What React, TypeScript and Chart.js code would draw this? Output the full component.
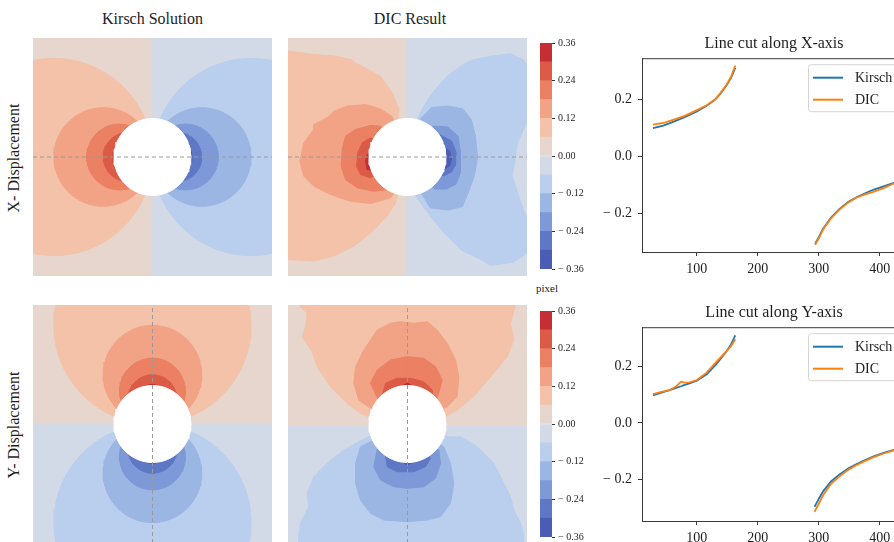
import React, { useEffect, useRef } from 'react';
import { Chart, registerables } from 'chart.js';
Chart.register(...registerables);

type Pt = [number, number];

const FONT = "'Liberation Serif', 'Times New Roman', serif";
const TEXT = '#1e1e1e';
Chart.defaults.font.family = FONT;
Chart.defaults.color = TEXT;

// ---------------- contour levels & colours ----------------
const levels = [-0.36, -0.3, -0.24, -0.18, -0.12, -0.06, 0, 0.06, 0.12, 0.18, 0.24, 0.3, 0.36];
const levelColors = ['#4a5cb3', '#5f78c6', '#7d99d8', '#9cb6e4', '#bacfee', '#d2dae8', '#e6d6ce', '#f3c2a9', '#f2a385', '#eb8063', '#dc5b47', '#c52e33'];
const colorbarTicks = [-0.36, -0.24, -0.12, 0, 0.12, 0.24, 0.36];
const colorbarTickLabels = ['\u2212 0.36', '\u2212 0.24', '\u2212 0.12', '0.00', '0.12', '0.24', '0.36'];

// ---------------- panel geometry (panel units, hole centre = 0,0) ----------------
const panelHalfX = 119.5;
const panelHalfY = 119;
const holeRadius = 38.5;
// Kirsch contour circles for |u| = 0.06, 0.12, 0.18, 0.24, 0.30 (radius = offset of centre)
const kirschRadii = [98.6, 49.3, 32.9, 24.6, 19.7];
const dicXSplit = -0.3;
const dicYSplit = -2;

// DIC X-displacement contours (positive lobes left, negative right)
const dicXPos06: Pt[] = [[-10.3, 35.8], [-8.7, 47.5], [-15.3, 64], [-27, 80.8], [-40.3, 88], [-52, 94], [-55.3, 96.8], [-70.3, 100.8], [-93.7, 102.5], [-120, 106], [-130, 106], [-130, -102.5], [-120, -102.5], [-93.7, -104], [-73.7, -99], [-53.7, -89], [-37, -76], [-20.3, -59], [-12, -46], [-8.7, -32.5]];
const dicXPos12: Pt[] = [[-15.3, 40.2], [-27, 48], [-42, 52.5], [-60.3, 50.8], [-73.7, 45.8], [-80.3, 39.2], [-93.7, 32.5], [-93.7, 27.5], [-103.7, 14.2], [-107.7, -4.2], [-103.7, -19.2], [-93.7, -29.2], [-77, -37.5], [-57, -44.2], [-37, -46.5], [-17, -40.8], [-10.3, -32.5]];
const dicXPos18: Pt[] = [[-27, 30.8], [-37, 31.5], [-52, 27.5], [-62, 20.8], [-65.3, 7.5], [-66.3, -9.2], [-62, -22.5], [-50.3, -30.8], [-33.7, -34.2], [-20.3, -32.5]];
const dicXPos24: Pt[] = [[-37, 19.2], [-45.3, 14.2], [-49.7, 4.2], [-51, -9.2], [-47, -17.5], [-37, -20.8]];
const dicXPos30: Pt[] = [[-37, 4], [-40.5, 2.5], [-42, -4.2], [-40.5, -12.5], [-37, -13]];
const dicXNeg06: Pt[] = [[9.7, 37.5], [16.3, 50.8], [26.3, 65.8], [39.7, 80.8], [53, 90.8], [63, 96.5], [83, 100.8], [103, 103.2], [116, 97], [121, 91], [121, 38], [110, 14], [108, 0], [104.7, -18.5], [113, -45], [121, -65], [121, -95], [106.3, -105], [83, -108.5], [73, -102.5], [53, -92.5], [36.3, -75.8], [23, -59.2], [13, -46], [6.3, -35.8]];
const dicXNeg12: Pt[] = [[13, 38], [24, 49.5], [41, 51], [55.5, 48], [64, 37], [68, 21], [70, 0.5], [67, -18.5], [61, -35], [55, -49.5], [41, -53], [23, -51], [13, -35]];
const dicXNeg18: Pt[] = [[26, 31], [40, 30], [50.5, 21], [53, 4.5], [53, -15.5], [48.5, -27], [39, -32], [27, -32]];
const dicXNeg24: Pt[] = [[33, 22], [44, 16], [48.5, 5], [48, -8], [44, -15], [36, -19]];
const dicXNeg30: Pt[] = [[37.5, 9], [42, 6], [44, -2], [42, -9], [37.5, -12]];

// DIC Y-displacement contours (positive lobes top, negative bottom)
const dicYPos06: Pt[] = [[-38.7, 7.3], [-47, 10.7], [-60.3, 20.7], [-77, 37.3], [-90.3, 57.3], [-95.3, 72.3], [-105.3, 87.3], [-102, 97.3], [-100.3, 110.7], [-108.7, 119], [-108.7, 130], [108, 130], [108, 119], [106.3, 114], [103, 100.7], [106.3, 84], [99.7, 67.3], [83, 47.3], [66.3, 27.3], [49.7, 14], [38, 7.3]];
const dicYPos12: Pt[] = [[-37, 15.7], [-48.7, 24], [-53.7, 40.7], [-52, 57.3], [-43.7, 74], [-30.3, 94], [-17, 100.7], [-7, 102.3], [6.3, 100.7], [19.7, 102.3], [29.7, 94], [39.7, 80.7], [48, 64], [51.3, 47.3], [49.7, 27.3], [39.7, 17.3]];
const dicYPos18: Pt[] = [[-29.5, 24.7], [-37, 40.7], [-30.3, 54], [-17, 64], [0, 67.3], [16.3, 65.7], [28, 57.3], [34.7, 44], [29.5, 24.7]];
const dicYPos24: Pt[] = [[-25, 29.5], [-22, 40.7], [-10.3, 45.7], [3, 45.7], [16.3, 42.3], [24.7, 34], [25, 29.5]];
const dicYPos30: Pt[] = [[-7, 37.5], [0, 41], [6.3, 37.5]];
const dicYNeg06: Pt[] = [[-38.7, -12.7], [-48.7, -17.7], [-63.7, -26], [-80.3, -39.3], [-93.7, -52.7], [-100.3, -69.3], [-98.7, -82.7], [-107, -99.3], [-108.7, -111], [-108.7, -130], [116.3, -130], [116.3, -111], [113, -99.3], [106.3, -86], [103, -72.7], [93, -52.7], [86.3, -39.3], [69.7, -22.7], [53, -12.7], [38, -12.7]];
const dicYNeg12: Pt[] = [[-37, -17.7], [-47, -22.7], [-52, -39.3], [-52, -59.3], [-47, -76], [-37, -89.3], [-23.7, -96], [0, -97.7], [19.7, -96], [33, -92.7], [43, -79.3], [46.3, -59.3], [43, -39.3], [36.3, -22.7]];
const dicYNeg18: Pt[] = [[-30, -24], [-33.7, -42.7], [-27, -56], [-13.7, -62.7], [0, -64.3], [16.3, -62.7], [28, -54.3], [33, -39.3], [31.3, -26]];
const dicYNeg24: Pt[] = [[-22, -31], [-20.3, -42.7], [-10.3, -47.7], [6.3, -47.7], [18, -42.7], [23, -34.3]];
const dicYNeg30: Pt[] = [[-7, -37.5], [0, -41], [6.3, -37.5]];

// ---------------- line cuts ----------------
const cutXLeft = [28, 45, 61, 80, 100, 116, 130, 138, 149, 156, 163];
const kirschXLeft = [0.099, 0.108, 0.121, 0.137, 0.157, 0.177, 0.199, 0.218, 0.25, 0.275, 0.31];
const dicXLeft = [0.111, 0.117, 0.128, 0.142, 0.162, 0.179, 0.2, 0.22, 0.252, 0.279, 0.318];
const cutXRight = [294, 300, 307, 320, 334, 348, 362, 376, 389, 405, 423, 432];
const kirschXRight = [-0.306, -0.283, -0.253, -0.214, -0.184, -0.16, -0.143, -0.129, -0.117, -0.106, -0.093, -0.088];
const dicXRight = [-0.31, -0.287, -0.256, -0.217, -0.186, -0.162, -0.144, -0.133, -0.124, -0.112, -0.095, -0.09];

const cutYLeft = [28, 42, 55, 65, 74, 80, 88, 100, 116, 132, 149, 156, 163];
const kirschYLeft = [0.098, 0.107, 0.116, 0.123, 0.13, 0.135, 0.14, 0.15, 0.172, 0.208, 0.255, 0.278, 0.31];
const dicYLeft = [0.102, 0.11, 0.116, 0.128, 0.146, 0.143, 0.144, 0.152, 0.178, 0.216, 0.255, 0.272, 0.296];
const cutYRight = [293, 300, 307, 320, 334, 348, 362, 376, 389, 405, 423, 432];
const kirschYRight = [-0.297, -0.268, -0.242, -0.207, -0.182, -0.161, -0.145, -0.131, -0.119, -0.107, -0.095, -0.09];
const dicYRight = [-0.315, -0.285, -0.256, -0.215, -0.189, -0.166, -0.149, -0.134, -0.122, -0.109, -0.097, -0.091];

const lineXMin = 10;
const lineXMax = 443;
const lineXTicks = [100, 200, 300, 400];
const lineYTicks = [-0.2, 0, 0.2];
const lineYTickLabels = ['\u2212 0.2', '0.0', '0.2'];
const seriesNames = ['Kirsch', 'DIC'];
const seriesColors = ['#1f77b4', '#ff7f0e'];

// ---------------- helpers ----------------
function circlePts(cx: number, cy: number, r: number): Pt[] {
  const pts: Pt[] = [];
  const n = 96;
  for (let i = 0; i < n; i++) {
    const a = (i / n) * Math.PI * 2;
    pts.push([cx + r * Math.cos(a), cy + r * Math.sin(a)]);
  }
  return pts;
}

function shape(pts: Pt[], color: string) {
  const closed = [...pts, pts[0]];
  return {
    data: closed.map(([x, y]) => ({ x, y })),
    showLine: true,
    fill: 'shape',
    backgroundColor: color,
    borderColor: color,
    borderWidth: 1,
    pointRadius: 0,
    tension: 0,
  };
}

function lobe(pts: Pt[], color: string) {
  return shape([...pts, [0, 0]], color);
}

function rect(x0: number, y0: number, x1: number, y1: number): Pt[] {
  return [[x0, y0], [x1, y0], [x1, y1], [x0, y1]];
}

function finishPanel(list: any[], axis: 'x' | 'y') {
  list.push(shape(circlePts(0, 0, holeRadius), '#ffffff'));
  const dash = axis === 'x'
    ? [{ x: -panelHalfX, y: 0 }, { x: panelHalfX, y: 0 }]
    : [{ x: 0, y: -panelHalfY }, { x: 0, y: panelHalfY }];
  list.push({ data: dash, showLine: true, fill: false, borderColor: '#9a9a9a', borderWidth: 1, borderDash: [4, 3], pointRadius: 0 });
  const n = list.length;
  return list.map((d, i) => ({ ...d, order: n - i }));
}

function kirschPanel(axis: 'x' | 'y') {
  const list: any[] = [];
  if (axis === 'x') {
    list.push(shape(rect(-130, -130, 0, 130), levelColors[6]));
    list.push(shape(rect(0, -130, 130, 130), levelColors[5]));
  } else {
    list.push(shape(rect(-130, 0, 130, 130), levelColors[6]));
    list.push(shape(rect(-130, -130, 130, 0), levelColors[5]));
  }
  kirschRadii.forEach((r, k) => {
    const c: Pt = axis === 'x' ? [-r, 0] : [0, r];
    list.push(shape(circlePts(c[0], c[1], r), levelColors[7 + k]));
    list.push(shape(circlePts(-c[0], -c[1], r), levelColors[4 - k]));
  });
  return finishPanel(list, axis);
}

function dicPanel(axis: 'x' | 'y') {
  const list: any[] = [];
  let pos: Pt[][];
  let neg: Pt[][];
  if (axis === 'x') {
    list.push(shape(rect(-130, -130, dicXSplit, 130), levelColors[6]));
    list.push(shape(rect(dicXSplit, -130, 130, 130), levelColors[5]));
    pos = [dicXPos06, dicXPos12, dicXPos18, dicXPos24, dicXPos30];
    neg = [dicXNeg06, dicXNeg12, dicXNeg18, dicXNeg24, dicXNeg30];
  } else {
    list.push(shape(rect(-130, dicYSplit, 130, 130), levelColors[6]));
    list.push(shape(rect(-130, -130, 130, dicYSplit), levelColors[5]));
    pos = [dicYPos06, dicYPos12, dicYPos18, dicYPos24, dicYPos30];
    neg = [dicYNeg06, dicYNeg12, dicYNeg18, dicYNeg24, dicYNeg30];
  }
  pos.forEach((p, k) => {
    list.push(lobe(p, levelColors[7 + k]));
    list.push(lobe(neg[k], levelColors[4 - k]));
  });
  return finishPanel(list, axis);
}

function contourConfig(datasets: any[]): any {
  return {
    type: 'line',
    data: { datasets },
    options: {
      animation: false,
      responsive: false,
      events: [],
      layout: { padding: 0 },
      plugins: { legend: { display: false }, tooltip: { enabled: false } },
      scales: {
        x: { type: 'linear', display: false, min: -panelHalfX, max: panelHalfX },
        y: { type: 'linear', display: false, min: -panelHalfY, max: panelHalfY },
      },
    },
  };
}

function colorbarConfig(): any {
  return {
    type: 'bar',
    data: {
      labels: [''],
      datasets: levelColors.map((c, i) => ({
        data: [[levels[i], levels[i + 1]]],
        backgroundColor: c,
        borderWidth: 0,
        barPercentage: 1,
        categoryPercentage: 1,
        grouped: false,
      })),
    },
    options: {
      animation: false,
      responsive: false,
      events: [],
      layout: { padding: { top: 10, bottom: 10, left: 0, right: 0 } },
      plugins: { legend: { display: false }, tooltip: { enabled: false } },
      scales: {
        x: { display: false },
        y: {
          position: 'right',
          min: levels[0],
          max: levels[levels.length - 1],
          afterBuildTicks: (s: any) => { s.ticks = colorbarTicks.map((v) => ({ value: v })); },
          afterFit: (s: any) => { s.width = 40; },
          grid: { display: true, drawOnChartArea: false, drawTicks: true, tickLength: 3, color: '#333' },
          border: { display: false },
          ticks: {
            padding: 3,
            color: TEXT,
            font: { family: FONT, size: 10 },
            callback: (v: number) => {
              const i = colorbarTicks.findIndex((t) => Math.abs(t - v) < 1e-6);
              return i >= 0 ? colorbarTickLabels[i] : '';
            },
          },
        },
      },
    },
  };
}

const boxPlugin = {
  id: 'axesBox',
  afterDraw(chart: any) {
    const { ctx, chartArea: a } = chart;
    ctx.save();
    ctx.strokeStyle = '#3a3a3a';
    ctx.lineWidth = 1;
    ctx.strokeRect(a.left + 0.5, a.top + 0.5, a.right - a.left, a.bottom - a.top);
    ctx.restore();
  },
};

const legendPlugin = {
  id: 'boxLegend',
  afterDraw(chart: any) {
    const { ctx, chartArea: a } = chart;
    const w = 91;
    const h = 47;
    const x = a.right - 7 - w;
    const y = a.top + 6.5;
    ctx.save();
    ctx.beginPath();
    ctx.roundRect(x + 0.5, y, w, h, 3);
    ctx.fillStyle = 'rgba(255,255,255,0.85)';
    ctx.fill();
    ctx.strokeStyle = '#d4d4d4';
    ctx.lineWidth = 1;
    ctx.stroke();
    chart.data.datasets.forEach((ds: any, i: number) => {
      const ly = y + 13 + i * 22;
      ctx.beginPath();
      ctx.moveTo(x + 5, ly);
      ctx.lineTo(x + 35, ly);
      ctx.strokeStyle = ds.borderColor;
      ctx.lineWidth = 2;
      ctx.stroke();
      ctx.fillStyle = TEXT;
      ctx.font = `14px ${FONT}`;
      ctx.textBaseline = 'middle';
      ctx.textAlign = 'left';
      ctx.fillText(ds.label, x + 47, ly + 1);
    });
    ctx.restore();
  },
};

function series(xl: number[], yl: number[], xr: number[], yr: number[]) {
  return [
    ...xl.map((x, i) => ({ x, y: yl[i] })),
    { x: 230, y: null },
    ...xr.map((x, i) => ({ x, y: yr[i] })),
  ];
}

function lineConfig(title: string, yMin: number, yMax: number, kirsch: any[], dic: any[]): any {
  return {
    type: 'line',
    data: {
      datasets: [
        { label: seriesNames[0], data: kirsch, borderColor: seriesColors[0], borderWidth: 1.8, pointRadius: 0, fill: false, tension: 0, spanGaps: false, order: 2 },
        { label: seriesNames[1], data: dic, borderColor: seriesColors[1], borderWidth: 1.8, pointRadius: 0, fill: false, tension: 0, spanGaps: false, order: 1 },
      ],
    },
    options: {
      animation: false,
      responsive: false,
      events: [],
      layout: { padding: { left: 0, right: 14, top: 0, bottom: 0 } },
      plugins: {
        legend: { display: false },
        tooltip: { enabled: false },
        title: {
          display: true,
          text: title,
          fullSize: false,
          color: TEXT,
          font: { family: FONT, size: 16, weight: 'normal' },
          padding: { top: 4, bottom: 5 },
        },
      },
      scales: {
        x: {
          type: 'linear',
          min: lineXMin,
          max: lineXMax,
          afterBuildTicks: (s: any) => { s.ticks = lineXTicks.map((v) => ({ value: v })); },
          afterFit: (s: any) => { s.height = 28; },
          grid: { display: true, drawOnChartArea: false, drawTicks: true, tickLength: 4, color: '#3a3a3a' },
          border: { display: true, color: '#3a3a3a' },
          ticks: { padding: 5, color: TEXT, font: { family: FONT, size: 14 }, maxRotation: 0, autoSkip: false },
        },
        y: {
          type: 'linear',
          min: yMin,
          max: yMax,
          afterBuildTicks: (s: any) => { s.ticks = lineYTicks.map((v) => ({ value: v })); },
          afterFit: (s: any) => { s.width = 52; },
          grid: { display: true, drawOnChartArea: false, drawTicks: true, tickLength: 4, color: '#3a3a3a' },
          border: { display: true, color: '#3a3a3a' },
          ticks: {
            padding: 6,
            color: TEXT,
            font: { family: FONT, size: 14 },
            callback: (v: number) => {
              const i = lineYTicks.findIndex((t) => Math.abs(t - v) < 1e-6);
              return i >= 0 ? lineYTickLabels[i] : '';
            },
          },
        },
      },
    },
    plugins: [boxPlugin, legendPlugin],
  };
}

// ---------------- components ----------------
function ChartBox(props: { left: number; top: number; width: number; height: number; make: () => any }) {
  const ref = useRef<HTMLCanvasElement>(null);
  useEffect(() => {
    const chart = new Chart(ref.current as HTMLCanvasElement, props.make());
    return () => chart.destroy();
  }, []);
  return (
    <canvas
      ref={ref}
      width={props.width}
      height={props.height}
      style={{ position: 'absolute', left: props.left, top: props.top, width: props.width, height: props.height }}
    />
  );
}

function Label(props: { text: string; x: number; y: number; size?: number; rotated?: boolean }) {
  return (
    <div
      style={{
        position: 'absolute',
        left: props.x,
        top: props.y,
        transform: `translate(-50%, -50%)${props.rotated ? ' rotate(-90deg)' : ''}`,
        whiteSpace: 'nowrap',
        fontSize: props.size || 16,
        lineHeight: 1,
        fontFamily: FONT,
        color: TEXT,
      }}
    >
      {props.text}
    </div>
  );
}

export default function App() {
  return (
    <div style={{ position: 'fixed', left: 0, top: 0, width: 894, height: 542, overflow: 'hidden', background: '#ffffff' }}>
      <Label text="Kirsch Solution" x={152.5} y={19} />
      <Label text="DIC Result" x={410} y={19} />
      <Label text="X- Displacement" x={14} y={158} rotated />
      <Label text="Y- Displacement" x={14} y={425} rotated />
      <Label text="pixel" x={547} y={288} size={11} />

      <ChartBox left={33} top={38} width={239} height={238} make={() => contourConfig(kirschPanel('x'))} />
      <ChartBox left={288} top={38} width={239} height={238} make={() => contourConfig(dicPanel('x'))} />
      <ChartBox left={33} top={305} width={239} height={238} make={() => contourConfig(kirschPanel('y'))} />
      <ChartBox left={288} top={305} width={239} height={238} make={() => contourConfig(dicPanel('y'))} />

      <ChartBox left={540} top={33} width={52} height={246} make={colorbarConfig} />
      <ChartBox left={540} top={301} width={52} height={246} make={colorbarConfig} />

      <ChartBox
        left={590}
        top={30}
        width={330}
        height={250}
        make={() => lineConfig('Line cut along X-axis', -0.335, 0.344,
          series(cutXLeft, kirschXLeft, cutXRight, kirschXRight),
          series(cutXLeft, dicXLeft, cutXRight, dicXRight))}
      />
      <ChartBox
        left={590}
        top={299}
        width={330}
        height={250}
        make={() => lineConfig('Line cut along Y-axis', -0.347, 0.339,
          series(cutYLeft, kirschYLeft, cutYRight, kirschYRight),
          series(cutYLeft, dicYLeft, cutYRight, dicYRight))}
      />
    </div>
  );
}
